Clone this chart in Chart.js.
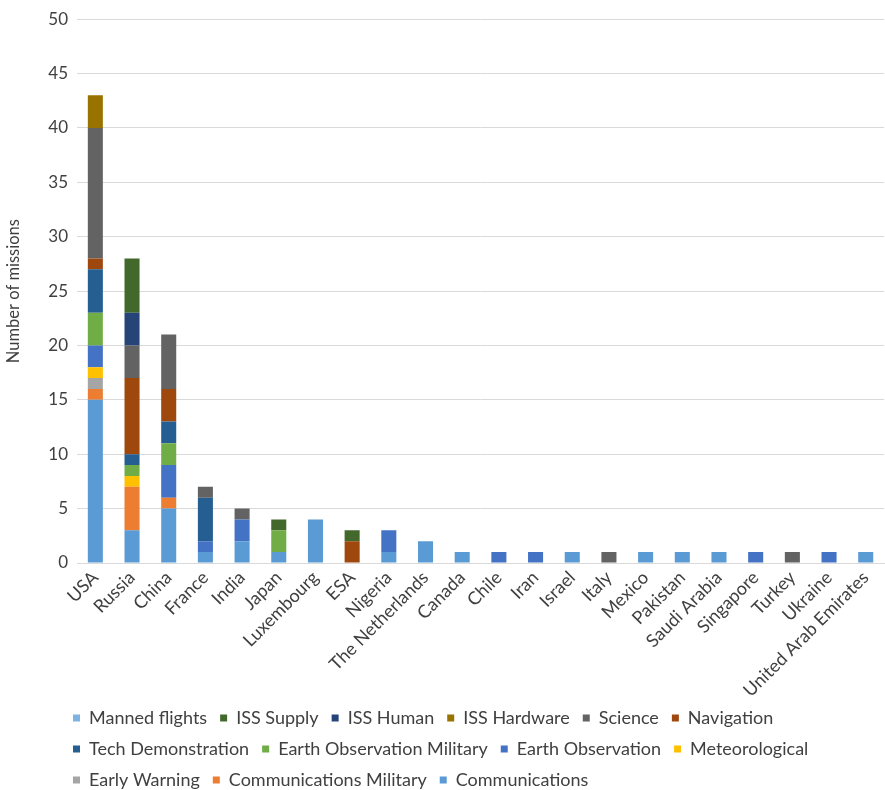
<!DOCTYPE html>
<html>
<head>
<meta charset="utf-8">
<script src="https://cdn.jsdelivr.net/npm/chart.js@4/dist/chart.umd.min.js"></script>
<style>
  html, body { margin: 0; padding: 0; background: #ffffff; }
  #wrap { width: 885px; height: 790px; position: relative; }
</style>
</head>
<body>
<div id="wrap"><canvas id="c" width="885" height="790"></canvas></div>
<script>
// Launching countries / agencies
const countries = ['USA', 'Russia', 'China', 'France', 'India', 'Japan', 'Luxembourg', 'ESA', 'Nigeria',
  'The Netherlands', 'Canada', 'Chile', 'Iran', 'Israel', 'Italy', 'Mexico', 'Pakistan', 'Saudi Arabia',
  'Singapore', 'Turkey', 'Ukraine', 'United Arab Emirates'];

// Missions per category (stacked from the bottom up)
const communications         = [15, 3, 5, 1, 2, 1, 4, 0, 1, 2, 1, 0, 0, 1, 0, 1, 1, 1, 0, 0, 0, 1];
const communicationsMilitary = [1, 4, 1, 0, 0, 0, 0, 0, 0, 0, 0, 0, 0, 0, 0, 0, 0, 0, 0, 0, 0, 0];
const earlyWarning           = [1, 0, 0, 0, 0, 0, 0, 0, 0, 0, 0, 0, 0, 0, 0, 0, 0, 0, 0, 0, 0, 0];
const meteorological         = [1, 1, 0, 0, 0, 0, 0, 0, 0, 0, 0, 0, 0, 0, 0, 0, 0, 0, 0, 0, 0, 0];
const earthObservation       = [2, 0, 3, 1, 2, 0, 0, 0, 2, 0, 0, 1, 1, 0, 0, 0, 0, 0, 1, 0, 1, 0];
const earthObsMilitary       = [3, 1, 2, 0, 0, 2, 0, 0, 0, 0, 0, 0, 0, 0, 0, 0, 0, 0, 0, 0, 0, 0];
const techDemonstration      = [4, 1, 2, 4, 0, 0, 0, 0, 0, 0, 0, 0, 0, 0, 0, 0, 0, 0, 0, 0, 0, 0];
const navigation             = [1, 7, 3, 0, 0, 0, 0, 2, 0, 0, 0, 0, 0, 0, 0, 0, 0, 0, 0, 0, 0, 0];
const science                = [12, 3, 5, 1, 1, 0, 0, 0, 0, 0, 0, 0, 0, 0, 1, 0, 0, 0, 0, 1, 0, 0];
const issHardware            = [3, 0, 0, 0, 0, 0, 0, 0, 0, 0, 0, 0, 0, 0, 0, 0, 0, 0, 0, 0, 0, 0];
const issHuman               = [0, 3, 0, 0, 0, 0, 0, 0, 0, 0, 0, 0, 0, 0, 0, 0, 0, 0, 0, 0, 0, 0];
const issSupply              = [0, 5, 0, 0, 0, 1, 0, 1, 0, 0, 0, 0, 0, 0, 0, 0, 0, 0, 0, 0, 0, 0];
const mannedFlights          = [0, 0, 0, 0, 0, 0, 0, 0, 0, 0, 0, 0, 0, 0, 0, 0, 0, 0, 0, 0, 0, 0];

const yTicks = [0, 5, 10, 15, 20, 25, 30, 35, 40, 45, 50];

const series = [
  { label: 'Communications',              data: communications,         color: '#5B9BD5' },
  { label: 'Communications Military',     data: communicationsMilitary, color: '#ED7D31' },
  { label: 'Early Warning',               data: earlyWarning,           color: '#A5A5A5' },
  { label: 'Meteorological',              data: meteorological,         color: '#FFC000' },
  { label: 'Earth Observation',           data: earthObservation,       color: '#4472C4' },
  { label: 'Earth Observation Military',  data: earthObsMilitary,       color: '#70AD47' },
  { label: 'Tech Demonstration',          data: techDemonstration,      color: '#255E91' },
  { label: 'Navigation',                  data: navigation,             color: '#9E480E' },
  { label: 'Science',                     data: science,                color: '#636363' },
  { label: 'ISS Hardware',                data: issHardware,            color: '#997300' },
  { label: 'ISS Human',                   data: issHuman,               color: '#264478' },
  { label: 'ISS Supply',                  data: issSupply,              color: '#43682B' },
  { label: 'Manned flights',              data: mannedFlights,          color: '#7EB2E0' }
];

const FONT = 'Lato, "Open Sans", sans-serif';
const TEXT = '#404040';

// Places the legend block below the rotated labels and lets long
// category labels run past the x-scale box instead of being clipped
const legendPlacer = {
  id: 'legendPlacer',
  beforeDraw(chart) {
    const lg = chart.legend;
    if (lg) {
      const h = lg.height;
      lg.left = 60;
      lg.top = 696;
      lg.bottom = lg.top + h;
    }
    const xs = chart.scales.x;
    if (xs) xs.bottom = chart.height;
  }
};

new Chart(document.getElementById('c'), {
  type: 'bar',
  data: {
    labels: countries,
    datasets: series.map(s => ({
      label: s.label,
      data: s.data,
      backgroundColor: s.color,
      borderWidth: 0,
      barPercentage: 0.41,
      categoryPercentage: 1.0
    }))
  },
  options: {
    responsive: false,
    animation: false,
    layout: { padding: { top: 5, right: 0, bottom: 0, left: 0 } },
    scales: {
      x: {
        stacked: true,
        grid: { display: false, drawTicks: false },
        border: { display: true, color: '#d9d9d9' },
        ticks: {
          color: TEXT,
          font: { family: FONT, size: 18 },
          minRotation: 45,
          maxRotation: 45,
          autoSkip: false,
          padding: 4
        },
        afterFit(scale) { scale.height = 124; }
      },
      y: {
        stacked: true,
        min: 0,
        max: 50,
        afterBuildTicks(scale) { scale.ticks = yTicks.map(v => ({ value: v })); },
        grid: { color: '#d9d9d9', lineWidth: 1, drawTicks: false },
        border: { display: false },
        ticks: {
          color: TEXT,
          font: { family: FONT, size: 17 },
          padding: 9
        },
        title: {
          display: true,
          text: 'Number of missions',
          color: TEXT,
          font: { family: FONT, size: 16.5 },
          padding: { top: 4, bottom: 0 }
        },
        afterFit(scale) { scale.width = 77; }
      }
    },
    plugins: {
      legend: {
        position: 'bottom',
        align: 'start',
        reverse: true,
        labels: {
          color: TEXT,
          font: { family: FONT, size: 18 },
          boxWidth: 7,
          boxHeight: 7,
          padding: 13
        }
      },
      tooltip: { enabled: false }
    }
  },
  plugins: [legendPlacer]
});
</script>
</body>
</html>
